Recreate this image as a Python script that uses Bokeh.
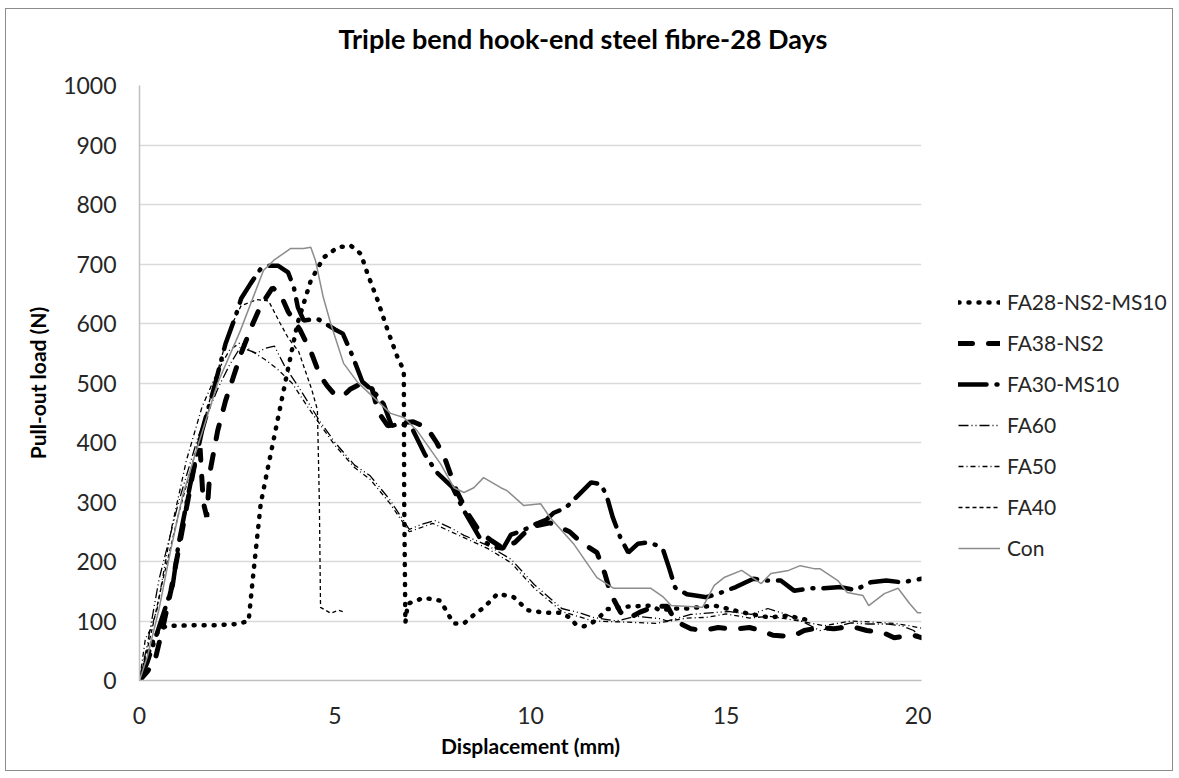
from bokeh.plotting import figure
from bokeh.models import Legend, LegendItem, Range1d, FixedTicker, Title
from bokeh.layouts import row
from bokeh.embed import file_html
from bokeh.resources import INLINE

TITLE = "Triple bend hook-end steel fibre-28 Days"
X_LABEL = "Displacement (mm)"
Y_LABEL = "Pull-out load (N)"
X_TICKS = [0, 5, 10, 15, 20]
Y_TICKS = [0, 100, 200, 300, 400, 500, 600, 700, 800, 900, 1000]

# FA28-NS2-MS10
fa28_x = [0, 0.1, 0.3, 0.5, 0.7, 1.0, 1.5, 2.0, 2.5, 2.79, 2.92, 3.1, 3.27, 3.53, 3.79, 4.04, 4.38,
          4.71, 5.07, 5.4, 5.66, 5.83, 6.09, 6.35, 6.6, 6.76, 6.77, 6.8, 6.86, 7.27, 7.7, 8.03, 8.3,
          8.6, 8.8, 9.16, 9.57, 9.93, 10.34, 10.77, 11.0, 11.15, 11.37, 11.6, 11.8, 11.97, 12.43,
          13.1, 13.3, 13.7, 14.0, 14.3, 14.7, 15.2, 15.6, 16.1, 16.6, 16.9, 17.2]
fa28_y = [0, 20, 60, 85, 92, 92, 93, 93, 95, 100, 185, 297, 353, 437, 521, 600, 672,
          711, 728, 731, 717, 684, 639, 588, 543, 521, 300, 97, 129, 139, 134, 96, 96,
          113, 122, 146, 140, 118, 114, 114, 106, 95, 91, 98, 109, 120, 124,
          126, 118, 121, 121, 123, 126, 118, 112, 106, 109, 104, 101]

# FA38-NS2
fa38_x = [0, 0.2, 0.4, 0.6, 0.8, 1.0, 1.2, 1.4, 1.55, 1.63, 1.72, 1.8, 2.0, 2.2, 2.4, 2.6, 2.9,
          3.1, 3.4, 3.6, 3.8, 4.1, 4.4, 4.6, 4.8, 5.0, 5.2, 5.4, 5.7, 5.95, 6.1, 6.35, 6.7, 7.0,
          7.35, 7.6, 7.8, 8.1, 8.4, 8.7, 9.0, 9.3, 9.6, 10.0, 10.5, 11.0, 11.3, 11.7, 11.9, 12.05,
          12.3, 12.5, 12.8, 13.2, 13.5, 13.7, 14.1, 14.4, 14.8, 15.2, 15.6, 15.9, 16.2, 16.7,
          17.0, 17.4, 17.76, 18.2, 18.6, 19.0, 19.3, 19.8, 20.0]
fa38_y = [0, 15, 35, 90, 150, 220, 290, 360, 390, 300, 275, 350, 420, 470, 510, 550, 600,
          630, 660, 650, 620, 590, 550, 515, 495, 480, 478, 490, 500, 490, 452, 428, 433, 435,
          425, 400, 375, 320, 280, 250, 235, 222, 232, 258, 265, 250, 232, 215, 180, 146,
          115, 104, 115, 125, 125, 100, 87, 84, 89, 86, 89, 84, 76, 74,
          84, 89, 87, 91, 84, 81, 72, 76, 72]

# FA30-MS10
fa30_x = [0, 0.2, 0.4, 0.6, 0.85, 1.0, 1.3, 1.6, 1.9, 2.2, 2.46, 2.6, 2.84, 3.1, 3.3, 3.55,
          3.8, 3.95, 4.05, 4.2, 4.55, 4.8, 5.0, 5.2, 5.45, 5.7, 6.0, 6.24, 6.45, 6.7, 7.0, 7.3,
          7.6, 8.0, 8.3, 8.7, 9.0, 9.3, 9.5, 9.8, 10.1, 10.4, 10.6, 10.9, 11.2, 11.55, 11.8,
          11.95, 12.1, 12.3, 12.5, 12.75, 13.0, 13.2, 13.4, 13.55, 13.7, 14.0, 14.3, 14.5, 14.8,
          15.25, 15.7, 16.07, 16.4, 16.74, 17.17, 17.5, 17.94, 18.3, 18.7, 19.1, 19.5, 20.0]
fa30_y = [0, 30, 70, 110, 160, 230, 330, 420, 490, 566, 613, 642, 667, 692, 697, 697,
          686, 660, 627, 605, 608, 598, 590, 583, 545, 502, 485, 465, 428, 432, 420, 380,
          350, 325, 285, 240, 225, 222, 245, 252, 262, 270, 282, 290, 310, 333, 330,
          310, 275, 240, 215, 230, 232, 228, 218, 188, 156, 145, 142, 140, 146,
          157, 171, 168, 168, 151, 155, 155, 157, 152, 165, 168, 165, 171]

# FA60
fa60_x = [0, 0.2, 0.5, 1.0, 1.5, 2.0, 2.3, 2.58, 2.8, 3.0, 3.2, 3.45, 3.7, 4.1, 4.6, 5.0, 5.5,
          5.9, 6.4, 6.9, 7.2, 7.55, 8.0, 8.3, 8.9, 9.5, 10.1, 10.8, 11.3, 11.6, 12.2, 12.7, 13.3,
          13.5, 14.1, 15.06, 15.65, 16.07, 16.5, 16.9, 17.4, 17.76, 18.2, 18.6, 19.1, 19.5,
          19.8, 20.0]
fa60_y = [0, 60, 170, 300, 410, 490, 530, 560, 555, 550, 558, 562, 530, 490, 437, 400, 362,
          344, 304, 254, 262, 269, 255, 244, 227, 204, 161, 121, 113, 106, 100, 108, 104,
          100, 111, 116, 111, 121, 112, 101, 84, 89, 97, 95, 95, 92,
          84, 72]

# FA50
fa50_x = [0, 0.15, 0.3, 0.45, 0.8, 1.2, 1.6, 2.0, 2.3, 2.58, 2.9, 3.2, 3.5, 3.9, 4.3, 4.6,
          5.0, 5.5, 5.9, 6.4, 6.9, 7.5, 8.3, 8.9, 9.5, 10.1, 10.8, 11.6, 12.5, 13.2, 14.0,
          14.5, 15.0, 15.6, 16.1, 16.9, 17.5, 18.2, 18.8, 19.3, 19.7, 20.0]
fa50_y = [0, 70, 88, 120, 250, 370, 460, 520, 555, 568, 552, 540, 525, 500, 460, 432,
          395, 358, 338, 298, 250, 264, 240, 222, 198, 155, 116, 100, 98, 96, 105,
          106, 112, 105, 108, 100, 92, 100, 98, 96, 92, 88]

# FA40
fa40_x = [0, 0.3, 0.6, 1.0, 1.5, 2.0, 2.3, 2.6, 3.0, 3.3, 3.6, 3.8, 4.07, 4.4, 4.55, 4.6,
          4.63, 4.89, 5.09, 5.27]
fa40_y = [0, 80, 170, 280, 400, 520, 590, 630, 640, 638, 600, 576, 553, 490, 455, 300,
          123, 113, 118, 114]

# Con
con_x = [0, 0.2, 0.5, 0.8, 1.1, 1.48, 2.0, 2.58, 3.17, 3.43, 3.86, 4.2, 4.38, 4.5, 4.7, 4.89,
         5.22, 5.58, 6.0, 6.42, 6.76, 7.1, 7.7, 8.04, 8.3, 8.55, 8.8, 9.24, 9.4, 9.83, 10.26,
         10.5, 11.1, 11.7, 12.13, 13.08, 13.4, 13.6, 14.4, 14.7, 14.95, 15.4, 15.9, 16.15,
         16.6, 16.9, 17.25, 17.4, 17.86, 18.1, 18.5, 18.65, 19.05, 19.4, 19.7, 19.9, 20.0]
con_y = [0, 40, 120, 220, 310, 392, 500, 588, 689, 706, 726, 726, 728, 706, 644, 600,
         533, 501, 475, 449, 442, 420, 364, 324, 316, 324, 341, 324, 319, 294, 297,
         274, 230, 173, 155, 155, 140, 126, 123, 160, 173, 185, 163, 180,
         185, 193, 188, 188, 168, 148, 143, 126, 146, 155, 129, 114, 114]

SERIES = [
    ("FA28-NS2-MS10", fa28_x, fa28_y, dict(line_color="black", line_width=4.5, line_dash="1 9", line_cap="round")),
    ("FA38-NS2", fa38_x, fa38_y, dict(line_color="black", line_width=5, line_dash="14 16", line_cap="round")),
    ("FA30-MS10", fa30_x, fa30_y, dict(line_color="black", line_width=4.5, line_dash="28 10 1 10", line_cap="round")),
    ("FA60", fa60_x, fa60_y, dict(line_color="black", line_width=1.3, line_dash="10 3 1 3 1 3")),
    ("FA50", fa50_x, fa50_y, dict(line_color="black", line_width=1.3, line_dash="5 3 1 3")),
    ("FA40", fa40_x, fa40_y, dict(line_color="black", line_width=1.3, line_dash="4 3")),
    ("Con", con_x, con_y, dict(line_color="#8c8c8c", line_width=1.5)),
]

FONT = "Lato"

# ---- main chart ----
p = figure(width=925, height=761, x_range=Range1d(0, 20), y_range=Range1d(0, 1000),
           output_backend="svg", toolbar_location=None,
           min_border_left=133, min_border_right=10, min_border_top=76, min_border_bottom=90)
p.outline_line_color = None
p.background_fill_color = "white"
p.border_fill_color = "white"

# real title (outermost) plus an empty spacer title next to the frame
p.title.text = TITLE
p.title.text_font = FONT
p.title.text_font_style = "bold"
p.title.text_font_size = "27px"
p.title.text_color = "#000000"
p.title.align = "left"
p.title.offset = 199
p.title.standoff = 0
p.add_layout(Title(text=" ", text_font=FONT, text_font_size="24px", standoff=0), "above")

p.xaxis.ticker = FixedTicker(ticks=X_TICKS)
p.yaxis.ticker = FixedTicker(ticks=Y_TICKS)
for ax in (p.xaxis[0], p.yaxis[0]):
    ax.axis_line_color = "#bfbfbf"
    ax.axis_line_width = 1.5
    ax.major_tick_line_color = None
    ax.minor_tick_line_color = None
    ax.major_label_text_font = FONT
    ax.major_label_text_font_size = "23px"
    ax.major_label_text_color = "#262626"
    ax.axis_label_text_font = FONT
    ax.axis_label_text_font_style = "bold"
    ax.axis_label_text_font_size = "21px"
    ax.axis_label_text_color = "#000000"
p.xaxis.axis_label = X_LABEL
p.yaxis.axis_label = Y_LABEL
p.xaxis.major_label_standoff = 20
p.yaxis.major_label_standoff = 17
p.xaxis.axis_label_standoff = 6
p.yaxis.axis_label_standoff = 10

p.xgrid.visible = False
p.ygrid.grid_line_color = "#d9d9d9"
p.ygrid.grid_line_width = 1.5

for name, xs, ys, style in SERIES:
    p.line(xs, ys, **style)

# ---- legend panel ----
lf = figure(width=241, height=761, x_range=Range1d(0, 1), y_range=Range1d(0, 1),
            output_backend="svg", toolbar_location=None, min_border=0,
            x_axis_location=None, y_axis_location=None)
lf.grid.visible = False
lf.outline_line_color = None
lf.background_fill_color = "white"
lf.border_fill_color = "white"

items = []
for name, xs, ys, style in SERIES:
    r = lf.line(x=[float("nan")], y=[float("nan")], **style)
    items.append(LegendItem(label=name, renderers=[r]))

legend = Legend(items=items, location=(27, 120), padding=0, margin=0,
                border_line_alpha=0, background_fill_alpha=0,
                glyph_width=42, glyph_height=22, label_height=22, spacing=16,
                label_standoff=7, label_text_font=FONT, label_text_font_size="21px",
                label_text_color="#262626")
lf.add_layout(legend)

layout = row(p, lf)
layout.styles = {"border": "1px solid #8c8c8c", "margin-left": "5px", "margin-top": "8px"}

open("out.html", "w").write(file_html(layout, INLINE))
